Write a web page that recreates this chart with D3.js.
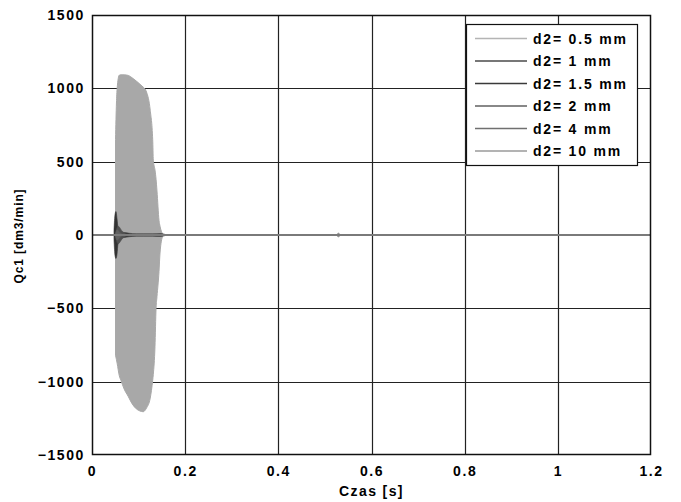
<!DOCTYPE html>
<html>
<head>
<meta charset="utf-8">
<script src="https://cdn.jsdelivr.net/npm/d3@7"></script>
<style>
  html, body { margin: 0; padding: 0; background: #fff; }
  svg text { font-family: "Liberation Sans", Arial, sans-serif; font-weight: bold; fill: #000; }
</style>
</head>
<body>
<svg id="chart" width="681" height="502"></svg>
<script>
// Legend entries (pipe diameter d2) and their line colours
const seriesNames = ["d2= 0.5 mm", "d2= 1 mm", "d2= 1.5 mm", "d2= 2 mm", "d2= 4 mm", "d2= 10 mm"];
const seriesColors = ["#b4b4b4", "#4a4a4a", "#3a3a3a", "#606060", "#707070", "#9a9a9a"];

// Axis ticks
const xTicks = [0, 0.2, 0.4, 0.6, 0.8, 1, 1.2];
const yTicks = [-1500, -1000, -500, 0, 500, 1000, 1500];

// d2 = 0.5 mm: oscillation envelope of Qc1 during the transient [s, dm3/min]
const t05 = [0.0505, 0.0525, 0.054, 0.0586, 0.062, 0.069, 0.078, 0.086, 0.095, 0.103, 0.110, 0.114, 0.117, 0.125, 0.1303, 0.1316, 0.1352, 0.1375, 0.1395, 0.1438, 0.146, 0.1518];
const up05 = [650, 900, 1000, 1090, 1092, 1092, 1088, 1072, 1050, 1028, 1008, 995, 975, 850, 650, 510, 443, 380, 300, 100, 60, 5];
const lo05 = [-820, -850, -875, -960, -990, -1050, -1102, -1150, -1185, -1200, -1205, -1195, -1180, -1112, -990, -950, -760, -500, -420, -250, -123, -5];

// d2 = 1 mm: short transient at the start
const t1 = [0.0472, 0.0494, 0.0515, 0.0537, 0.0558, 0.0601, 0.0644];
const up1 = [30, 140, 160, 110, 50, 20, 5];
const lo1 = [-30, -140, -160, -130, -60, -25, -5];

// d2 = 1.5 mm: small ripple after the transient
const t15 = [0.052, 0.06, 0.08, 0.095, 0.11, 0.13, 0.148, 0.16];
const up15 = [0, 20, 12, 8, 8, 8, 10, 0];
const lo15 = [0, -20, -12, -8, -8, -8, -10, 0];

// d2 = 2 mm and d2 = 4 mm: residual ripple
const t2 = [0.05, 0.056, 0.065, 0.075];
const up2 = [0, 60, 25, 0];
const lo2 = [0, -60, -25, 0];
const t4 = [0.05, 0.054, 0.06, 0.07];
const up4 = [0, 35, 15, 0];
const lo4 = [0, -35, -15, 0];

// d2 = 10 mm: tiny disturbance later in the run
const t10 = [0.525, 0.529, 0.533];
const up10 = [0, 14, 0];
const lo10 = [0, -14, 0];

const bursts = [
  { t: t05, up: up05, lo: lo05 },
  { t: t1, up: up1, lo: lo1 },
  { t: t15, up: up15, lo: lo15 },
  { t: t2, up: up2, lo: lo2 },
  { t: t4, up: up4, lo: lo4 },
  { t: t10, up: up10, lo: lo10 }
];
// fill of each envelope (dense oscillation renders as a solid band)
const burstFill = ["#a8a8a8", "#333333", "#3a3a3a", "#505050", "#606060", "#8a8a8a"];

const svg = d3.select("#chart");
const plotL = 92, plotR = 651, plotT = 15, plotB = 455;

const x = d3.scaleLinear().domain([0, 1.2]).range([plotL, plotR]);
const y = d3.scaleLinear().domain([-1500, 1500]).range([plotB, plotT]);

// Grid
const grid = svg.append("g");
grid.selectAll("line.v").data(xTicks.slice(1, -1)).enter().append("line")
  .attr("x1", d => Math.round(x(d)) + 0.5).attr("x2", d => Math.round(x(d)) + 0.5)
  .attr("y1", plotT).attr("y2", plotB)
  .attr("stroke", "#222").attr("stroke-width", 1.2);
grid.selectAll("line.h").data(yTicks.slice(1, -1)).enter().append("line")
  .attr("y1", d => Math.round(y(d)) + 0.5).attr("y2", d => Math.round(y(d)) + 0.5)
  .attr("x1", plotL).attr("x2", plotR)
  .attr("stroke", "#222").attr("stroke-width", 1.2);

// Series: baseline flow over the full run, then the oscillation envelopes
const plot = svg.append("g");
const line = d3.line().x(d => x(d[0])).y(d => y(d[1]));
seriesColors.forEach((c, i) => {
  plot.append("path")
    .attr("d", line([[0, 0], [1.2, 0]]))
    .attr("fill", "none").attr("stroke", c).attr("stroke-width", 2);
});
const area = d3.area()
  .x(d => x(d.t)).y0(d => y(d.lo)).y1(d => y(d.up))
  .curve(d3.curveMonotoneX);
bursts.forEach((b, i) => {
  const pts = b.t.map((t, k) => ({ t: t, up: b.up[k], lo: b.lo[k] }));
  plot.append("path")
    .attr("d", area(pts))
    .attr("fill", burstFill[i])
    .attr("stroke", burstFill[i])
    .attr("stroke-width", i === 0 ? 1 : 0.6);
});
// baseline on top of the envelopes
plot.append("path")
  .attr("d", line([[0, 0], [1.2, 0]]))
  .attr("fill", "none").attr("stroke", "#7a7a7a").attr("stroke-width", 2);

// Frame
svg.append("rect")
  .attr("x", plotL + 0.5).attr("y", plotT + 0.5)
  .attr("width", plotR - plotL - 1).attr("height", plotB - plotT - 1)
  .attr("fill", "none").attr("stroke", "#111").attr("stroke-width", 1.5);

// Axes
const xAxis = svg.append("g").attr("transform", `translate(0,${plotB})`)
  .call(d3.axisBottom(x).tickValues(xTicks).tickSize(0).tickPadding(8).tickFormat(d3.format("")));
const yAxis = svg.append("g").attr("transform", `translate(${plotL},0)`)
  .call(d3.axisLeft(y).tickValues(yTicks).tickSize(0).tickPadding(7).tickFormat(d3.format("")));
[xAxis, yAxis].forEach(a => {
  a.select(".domain").remove();
  a.selectAll("text")
    .style("font-family", "'Liberation Sans', Arial, sans-serif")
    .style("font-weight", "bold").style("font-size", "14px")
    .style("letter-spacing", "1.6px").attr("fill", "#000");
});
xAxis.selectAll("text").attr("dy", "0.9em");

// Axis titles
svg.append("text")
  .attr("x", (plotL + plotR) / 2).attr("y", 496)
  .attr("text-anchor", "middle")
  .style("font-size", "14px").style("letter-spacing", "1.4px")
  .text("Czas [s]");
svg.append("text")
  .attr("transform", "translate(23,236) rotate(-90)")
  .attr("text-anchor", "middle")
  .style("font-size", "12px").style("letter-spacing", "0.9px")
  .text("Qc1 [dm3/min]");

// Legend
const lg = svg.append("g");
lg.append("rect")
  .attr("x", 466.5).attr("y", 24.5).attr("width", 171).attr("height", 141)
  .attr("fill", "#fff").attr("stroke", "#111").attr("stroke-width", 1.2);
seriesNames.forEach((name, i) => {
  const ry = 38.5 + i * 22.5;
  lg.append("line")
    .attr("x1", 475).attr("x2", 527).attr("y1", ry).attr("y2", ry)
    .attr("stroke", seriesColors[i]).attr("stroke-width", 1.5);
  lg.append("text")
    .attr("x", 533).attr("y", ry + 5)
    .style("font-size", "14px").style("letter-spacing", "1.8px")
    .text(name);
});
</script>
</body>
</html>
